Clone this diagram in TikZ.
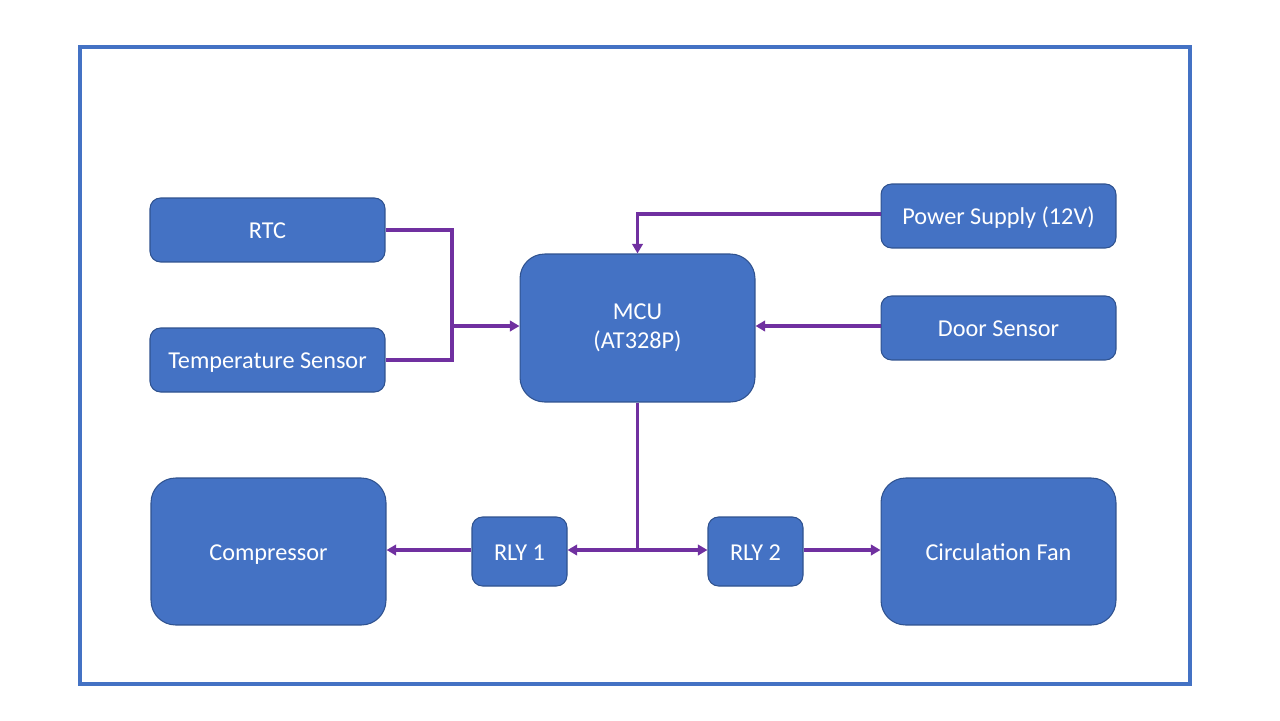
\documentclass[tikz,border=0pt]{standalone}
\usepackage{fontspec}
\setmainfont{Carlito}
\usetikzlibrary{arrows.meta}
\definecolor{boxfill}{HTML}{4472C4}
\definecolor{boxdraw}{HTML}{2F528F}
\definecolor{wire}{HTML}{7030A0}
\tikzset{
  blk/.style={draw=boxdraw, fill=boxfill, line width=0.6pt, text=white, align=center,
    font=\fontsize{13.8}{16.5}\selectfont, inner sep=0pt},
  oneline/.style={text height=10pt, text depth=0pt},
  smallblk/.style={blk, rounded corners=6pt},
  bigblk/.style={blk, rounded corners=14pt},
  wireline/.style={draw=wire, line width=2.1pt},
  wirearrow/.style={wireline, -{Triangle[length=5.5pt,width=6pt]}},
}
\begin{document}
\begin{tikzpicture}[x=0.02cm,y=-0.02cm]
\useasboundingbox (0,0) rectangle (1280,720);
\draw[draw=boxfill, line width=1.8pt] (80,47) rectangle (1190,684);
\node[smallblk, oneline, minimum width=4.7cm, minimum height=1.28cm] (rtc) at (267.5,230) {RTC};
\node[smallblk, oneline, minimum width=4.7cm, minimum height=1.28cm] (temp) at (267.5,360) {Temperature Sensor};
\node[bigblk, minimum width=4.7cm, minimum height=2.96cm] (mcu) at (637.5,328) {MCU\\(AT328P)};
\node[smallblk, oneline, minimum width=4.7cm, minimum height=1.28cm] (psu) at (998.5,216) {Power Supply (12V)};
\node[smallblk, oneline, minimum width=4.7cm, minimum height=1.28cm] (door) at (998.5,328) {Door Sensor};
\node[bigblk, oneline, minimum width=4.7cm, minimum height=2.94cm] (comp) at (268.5,551.5) {Compressor};
\node[bigblk, oneline, minimum width=4.7cm, minimum height=2.94cm] (fan) at (998.5,551.5) {Circulation Fan};
\node[smallblk, oneline, minimum width=1.9cm, minimum height=1.38cm] (rly1) at (519.5,551.5) {RLY 1};
\node[smallblk, oneline, minimum width=1.9cm, minimum height=1.38cm] (rly2) at (755.5,551.5) {RLY 2};
\coordinate (join) at (452,326);
\coordinate (tee) at (637.5,550);
\draw[wireline] (rtc.east) -| (join) |- (temp.east);
\draw[wirearrow] (join) -- (mcu.west |- join);
\draw[wirearrow] (psu.west |- 0,214) -| (mcu.north);
\draw[wirearrow] (door.west |- 0,326) -- (mcu.east |- 0,326);
\draw[wireline] (mcu.south) -- (tee);
\draw[wirearrow] (tee) -- (rly1.east |- tee);
\draw[wirearrow] (tee) -- (rly2.west |- tee);
\draw[wirearrow] (rly1.west |- tee) -- (comp.east |- tee);
\draw[wirearrow] (rly2.east |- tee) -- (fan.west |- tee);
\end{tikzpicture}
\end{document}
